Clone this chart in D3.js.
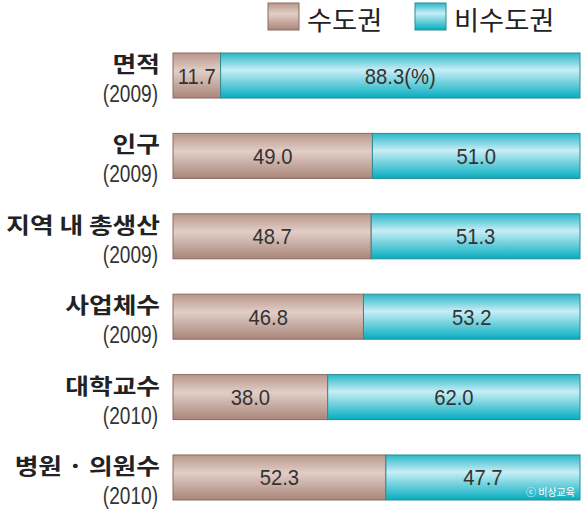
<!DOCTYPE html>
<html>
<head>
<meta charset="utf-8">
<script src="https://cdn.jsdelivr.net/npm/d3@7"></script>
<style>
  body { margin: 0; background: #fff; }
  svg { display: block; }
</style>
</head>
<body>
<svg id="chart"></svg>
<script>
// data
let categories = ['면적', '인구', '지역 내 총생산', '사업체수', '대학교수', '병원 · 의원수'];
let years = ['(2009)', '(2009)', '(2009)', '(2009)', '(2010)', '(2010)'];
let capital = [11.7, 49.0, 48.7, 46.8, 38.0, 52.3];
let nonCapital = [88.3, 51.0, 51.3, 53.2, 62.0, 47.7];
let seriesNames = ['수도권', '비수도권'];

// stretch or squeeze a text horizontally, the original uses other faces
function reshape(sel, ratio) {
    sel.each(function() {
        let len = this.getComputedTextLength();
        d3.select(this)
            .attr('textLength', len * ratio)
            .attr('lengthAdjust', 'spacingAndGlyphs');
    });
}

function makeChart() {
    let w = 584;
    let h = 512;

    let svg = d3.select('#chart')
        .attr('width', w)
        .attr('height', h);

    // gradients for the shiny bars
    let defs = svg.append('defs');
    let grads = [
        { id: 'gBrown', stops: [['0%', '#b8978b'], ['40%', '#e2cec6'], ['100%', '#a98679']] },
        { id: 'gCyan', stops: [['0%', '#2bb7c7'], ['38%', '#c8eef6'], ['100%', '#05adbf']] }
    ];
    grads.forEach((g) => {
        let lg = defs.append('linearGradient')
            .attr('id', g.id)
            .attr('x1', 0).attr('y1', 0)
            .attr('x2', 0).attr('y2', 1);
        g.stops.forEach((s) => {
            lg.append('stop').attr('offset', s[0]).attr('stop-color', s[1]);
        });
    });
    let fills = ['url(#gBrown)', 'url(#gCyan)'];
    let strokes = ['#8c6b60', '#2a8d95'];

    let xScale = d3.scaleLinear()
        .domain([0, 100])
        .range([173, 580]);

    let yScale = d3.scaleBand()
        .domain(categories)
        .range([53, 500])
        .paddingInner(0.44)
        .paddingOuter(0);

    let rows = categories.map((c, i) => ({
        name: c,
        year: years[i],
        a: capital[i],
        b: nonCapital[i]
    }));

    let row = svg.selectAll('g.row')
        .data(rows)
        .enter()
        .append('g')
        .attr('class', 'row')
        .attr('transform', (d) => `translate(0, ${yScale(d.name)})`);

    let bh = yScale.bandwidth();

    // capital region segment
    row.append('rect')
        .attr('x', xScale(0))
        .attr('y', 0)
        .attr('width', (d) => xScale(d.a) - xScale(0))
        .attr('height', bh)
        .attr('fill', fills[0])
        .attr('stroke', strokes[0])
        .attr('stroke-width', 1);

    // non-capital segment
    row.append('rect')
        .attr('x', (d) => xScale(d.a))
        .attr('y', 0)
        .attr('width', (d) => xScale(d.a + d.b) - xScale(d.a))
        .attr('height', bh)
        .attr('fill', fills[1])
        .attr('stroke', strokes[1])
        .attr('stroke-width', 1);

    let numFont = "'Liberation Sans', Arial, sans-serif";
    let korFont = "'Noto Sans CJK KR', sans-serif";

    let va = row.append('text')
        .attr('x', (d) => (xScale(0) + xScale(d.a)) / 2)
        .attr('y', bh / 2 + 8)
        .attr('text-anchor', 'middle')
        .attr('font-family', numFont)
        .attr('font-size', '22px')
        .attr('fill', '#333')
        .text((d) => d.a.toFixed(1));

    let vb = row.append('text')
        .attr('x', (d) => (xScale(d.a) + xScale(d.a + d.b)) / 2)
        .attr('y', bh / 2 + 8)
        .attr('text-anchor', 'middle')
        .attr('font-family', numFont)
        .attr('font-size', '22px')
        .attr('fill', '#333')
        .text((d, i) => i === 0 ? d.b.toFixed(1) + '(%)' : d.b.toFixed(1));

    reshape(va, 0.92);
    reshape(vb, 0.92);

    // category names and years
    let names = row.append('text')
        .attr('x', 160)
        .attr('y', 19)
        .attr('text-anchor', 'end')
        .attr('font-family', korFont)
        .attr('font-weight', 'bold')
        .attr('font-size', '22px')
        .attr('fill', '#222')
        .text((d) => d.name);
    reshape(names, 1.17);

    let yrs = row.append('text')
        .attr('x', 158)
        .attr('y', 49)
        .attr('text-anchor', 'end')
        .attr('font-family', numFont)
        .attr('font-size', '23px')
        .attr('fill', '#333')
        .text((d) => d.year);
    reshape(yrs, 0.83);

    // legend
    let legend = svg.append('g').attr('class', 'legend');
    let legX = [268, 415];
    seriesNames.forEach((s, i) => {
        legend.append('rect')
            .attr('x', legX[i])
            .attr('y', 3)
            .attr('width', 31)
            .attr('height', 27)
            .attr('fill', fills[i])
            .attr('stroke', strokes[i]);
        let t = legend.append('text')
            .attr('x', legX[i] + 39)
            .attr('y', 30)
            .attr('font-family', korFont)
            .attr('font-size', '26px')
            .attr('fill', '#222')
            .text(s);
        reshape(t, 1.05);
    });

    // publisher mark
    svg.append('text')
        .attr('x', 575)
        .attr('y', 496)
        .attr('text-anchor', 'end')
        .attr('font-family', korFont)
        .attr('font-size', '10px')
        .attr('fill', '#fff')
        .text('ⓒ 비상교육');
}

window.onload = function() {
    makeChart();
};
</script>
</body>
</html>
